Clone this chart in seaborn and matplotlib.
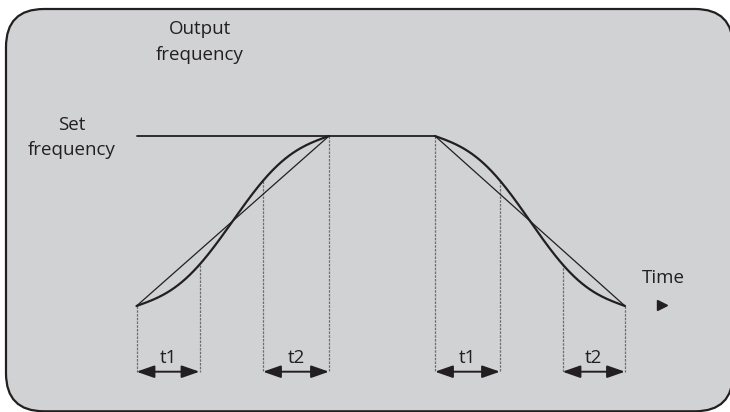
import numpy as np
import pandas as pd
import matplotlib
matplotlib.use("Agg")
import matplotlib.pyplot as plt
from matplotlib.patches import FancyBboxPatch, ArrowStyle
import seaborn as sns

# Breakpoints of the acceleration / deceleration ramps (time units)
accel_times = [0, 63, 126.5, 192.5]      # start, end of t1, start of t2, end
decel_times = [298.5, 363.5, 426, 488.5]  # start, end of t1, start of t2, end
base_freq = 0
set_freq = 170
s_bulge = 0.095                          # depth of the S relative to the full ramp
interval_labels = ["t1", "t2", "t1", "t2"]

INK = "#231f20"
PANEL = "#d1d2d4"
DASH = "#6d6e71"


def s_ramp(t0, t3, f_from, f_to, n=200):
    """S-shaped ramp that winds around the straight ramp between two levels."""
    t = np.linspace(t0, t3, n)
    u = (t - t0) / (t3 - t0)
    g = u - s_bulge * np.sin(2 * np.pi * u)
    return t, f_from + (f_to - f_from) * g


sns.set_theme(style="white")
plt.rcParams["font.family"] = ["Open Sans", "DejaVu Sans"]

fig = plt.figure(figsize=(7.3, 4.12), dpi=100)
ax = fig.add_axes([0, 0, 1, 1])
ax.set_xlim(-136.5, 593.5)
ax.set_ylim(-106, 306)
ax.axis("off")

# Rounded grey panel (runs slightly past the right edge of the canvas)
panel = FancyBboxPatch((-130.5, -105.3), 727, 402.3,
                       boxstyle="round,pad=0,rounding_size=38",
                       facecolor=PANEL, edgecolor=INK, linewidth=1.6, zorder=0)
ax.add_patch(panel)

# Acceleration and deceleration S-ramps
ta, fa = s_ramp(accel_times[0], accel_times[-1], base_freq, set_freq)
td, fd = s_ramp(decel_times[0], decel_times[-1], set_freq, base_freq)
ramp_df = pd.DataFrame({
    "time": np.concatenate([ta, td]),
    "freq": np.concatenate([fa, fd]),
    "phase": ["accel"] * len(ta) + ["decel"] * len(td),
})
sns.lineplot(data=ramp_df, x="time", y="freq", units="phase", estimator=None,
             sort=False, ax=ax, color=INK, lw=1.6, legend=False)

# Straight ramps for comparison
lin_df = pd.DataFrame({
    "time": [accel_times[0], accel_times[-1], decel_times[0], decel_times[-1]],
    "freq": [base_freq, set_freq, set_freq, base_freq],
    "phase": ["accel", "accel", "decel", "decel"],
})
sns.lineplot(data=lin_df, x="time", y="freq", units="phase", estimator=None,
             sort=False, ax=ax, color=INK, lw=0.9, legend=False)

# Set frequency plateau
ax.plot([accel_times[0], decel_times[0]], [set_freq, set_freq], color=INK, lw=1.3)

arrow_y = -65.7
label_y = -52
intervals = [
    (accel_times[0], accel_times[1], ta, fa),
    (accel_times[2], accel_times[3], ta, fa),
    (decel_times[0], decel_times[1], td, fd),
    (decel_times[2], decel_times[3], td, fd),
]
style = ArrowStyle("<|-|>", head_length=0.4, head_width=0.14)
for (x0, x1, tt, ff), lab in zip(intervals, interval_labels):
    for x in (x0, x1):
        top = float(np.interp(x, tt, ff))
        ax.plot([x, x], [top, arrow_y], color=DASH, lw=0.9,
                linestyle=(0, (2.0, 1.0)), zorder=1)
    ax.annotate("", xy=(x1, arrow_y), xytext=(x0, arrow_y),
                arrowprops=dict(arrowstyle=style, color=INK, lw=1.4,
                                shrinkA=0, shrinkB=0, mutation_scale=27))
    ax.text((x0 + x1) / 2, label_y, lab, ha="center", va="center",
            fontsize=13.5, color=INK)

# Axis captions
ax.text(63.5, 264, "Output\nfrequency", ha="center", va="center",
        fontsize=13.5, color=INK, linespacing=1.55)
ax.text(-64.5, 168.5, "Set\nfrequency", ha="center", va="center",
        fontsize=13.5, color=INK, linespacing=1.5)
ax.text(526.5, 28, "Time", ha="center", va="center", fontsize=13.5, color=INK)
ax.plot([525.5], [1], marker=">", markersize=7.5, color=INK, linestyle="none")

fig.savefig("out.png", dpi=100, facecolor="white")
